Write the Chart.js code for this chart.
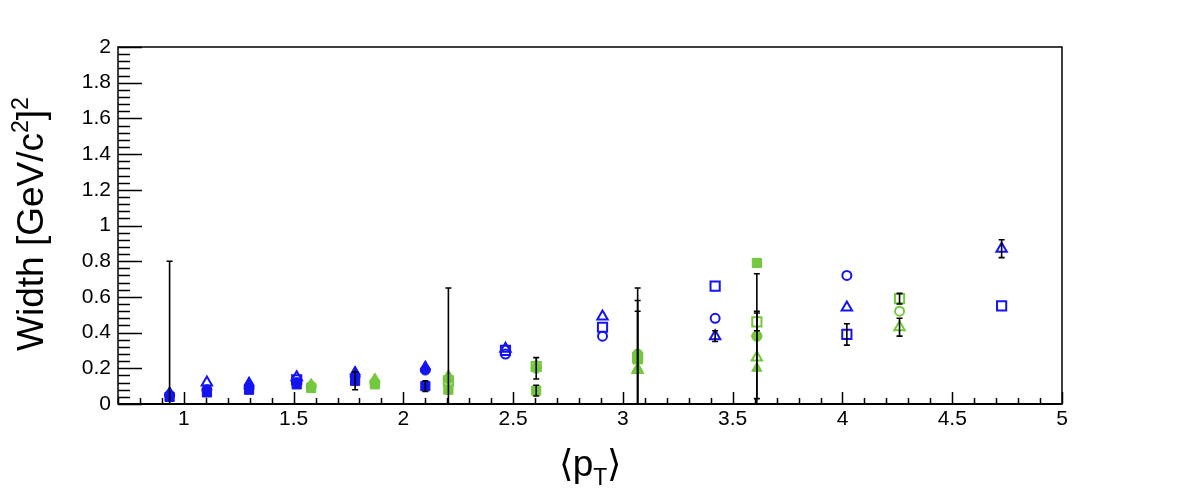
<!DOCTYPE html>
<html lang="en">
  <head>
    <meta charset="UTF-8" />
    <title>Width vs pT</title>
    <script src="https://cdn.jsdelivr.net/npm/chart.js"></script>
    <style>
      body {
        margin: 0;
        padding: 0;
        background: #fff;
      }
      .chart-box {
        width: 1181px;
        height: 493px;
      }
    </style>
  </head>
  <body>
    <div class="chart-box">
      <canvas id="widthChart"></canvas>
    </div>

    <script>
      // axis ticks
      var xTicks = [1, 1.5, 2, 2.5, 3, 3.5, 4, 4.5, 5];
      var xTickLabels = ["1", "1.5", "2", "2.5", "3", "3.5", "4", "4.5", "5"];
      var yTicks = [0, 0.2, 0.4, 0.6, 0.8, 1, 1.2, 1.4, 1.6, 1.8, 2];
      var yTickLabels = ["0", "0.2", "0.4", "0.6", "0.8", "1", "1.2", "1.4", "1.6", "1.8", "2"];

      // blue, filled square
      var bfsX = [0.935, 1.105, 1.297, 1.514, 1.78, 2.1];
      var bfsY = [0.04, 0.065, 0.08, 0.11, 0.13, 0.1];
      var bfsE = [0, 0, 0, 0, 0.05, 0.03];
      // blue, filled circle
      var bfcX = [0.935, 1.105, 1.297, 1.514, 1.78, 2.1];
      var bfcY = [0.05, 0.08, 0.09, 0.12, 0.155, 0.19];
      var bfcE = [0.75, 0, 0, 0, 0, 0];
      // blue, filled triangle
      var bftX = [0.935, 1.297, 1.78, 2.1];
      var bftY = [0.065, 0.12, 0.18, 0.21];
      var bftE = [0, 0, 0, 0];
      // blue, open triangle
      var botX = [1.105, 1.514, 2.465, 2.907, 3.42, 4.02, 4.725];
      var botY = [0.12, 0.15, 0.31, 0.49, 0.38, 0.54, 0.87];
      var botE = [0, 0, 0, 0, 0.03, 0, 0.05];
      // blue, open square
      var bosX = [1.514, 2.465, 2.907, 3.42, 4.02, 4.725];
      var bosY = [0.135, 0.3, 0.43, 0.66, 0.39, 0.55];
      var bosE = [0, 0, 0, 0, 0.06, 0];
      // blue, open circle
      var bocX = [2.465, 2.907, 3.42, 4.02];
      var bocY = [0.28, 0.38, 0.48, 0.72];
      var bocE = [0, 0, 0, 0];

      // green, filled square
      var gfsX = [1.58, 1.87, 2.205, 2.605, 3.067, 3.61];
      var gfsY = [0.09, 0.11, 0.08, 0.075, 0.25, 0.79];
      var gfsE = [0, 0, 0, 0.03, 0.27, 0];
      // green, filled circle
      var gfcX = [1.58, 1.87, 2.205, 2.605, 3.067, 3.61];
      var gfcY = [0.1, 0.12, 0.14, 0.2, 0.28, 0.38];
      var gfcE = [0, 0, 0.51, 0.06, 0.37, 0.35];
      // green, filled triangle
      var gftX = [1.58, 1.87, 2.205, 2.605, 3.067, 3.61];
      var gftY = [0.11, 0.14, 0.16, 0.22, 0.2, 0.2];
      var gftE = [0, 0, 0, 0, 0.38, 0];
      // green, open square
      var gosX = [2.205, 2.605, 3.067, 3.61, 4.26];
      var gosY = [0.13, 0.21, 0.26, 0.46, 0.59];
      var gosE = [0, 0, 0, 0.05, 0.03];
      // green, open circle
      var gocX = [3.61, 4.26];
      var gocY = [0.38, 0.52];
      var gocE = [0, 0];
      // green, open triangle
      var gotX = [3.067, 3.61, 4.26];
      var gotY = [0.19, 0.26, 0.43];
      var gotE = [0, 0.26, 0.05];

      var BLUE = "#1414f0";
      var GREEN = "#74c83e";
      var FONT = "'Liberation Sans', Arial, sans-serif";

      function series(xs, ys, es, color, shape, filled) {
        var r = shape === "rect" ? 6.5 : shape === "triangle" ? 6 : 4.5;
        if (filled && shape === "circle") r = 5;
        return {
          data: xs.map((x, i) => ({ x: x, y: ys[i], err: es[i] })),
          pointStyle: shape,
          pointRadius: r,
          pointHoverRadius: r,
          borderColor: color,
          backgroundColor: filled ? color : "rgba(255,255,255,0)",
          pointBorderWidth: filled ? 1 : 2,
          showLine: false,
        };
      }

      // vertical error bars, black with small caps
      var errorBars = {
        id: "errorBars",
        afterDatasetsDraw(chart) {
          var ctx = chart.ctx;
          var xs = chart.scales.x;
          var ys = chart.scales.y;
          var area = chart.chartArea;
          ctx.save();
          ctx.beginPath();
          ctx.rect(area.left, area.top, area.right - area.left, area.bottom - area.top);
          ctx.clip();
          ctx.strokeStyle = "#000";
          ctx.lineWidth = 1.6;
          chart.data.datasets.forEach((ds) => {
            ds.data.forEach((p) => {
              if (!p.err) return;
              var px = xs.getPixelForValue(p.x);
              var top = ys.getPixelForValue(p.y + p.err);
              var bot = ys.getPixelForValue(p.y - p.err);
              ctx.beginPath();
              ctx.moveTo(px, top);
              ctx.lineTo(px, bot);
              ctx.moveTo(px - 3, top);
              ctx.lineTo(px + 3, top);
              ctx.moveTo(px - 3, bot);
              ctx.lineTo(px + 3, bot);
              ctx.stroke();
            });
          });
          ctx.restore();
        },
      };

      // ROOT-like frame with inside ticks, plus axis titles
      var frame = {
        id: "frame",
        afterDraw(chart) {
          var ctx = chart.ctx;
          var xs = chart.scales.x;
          var ys = chart.scales.y;
          var a = chart.chartArea;
          ctx.save();
          ctx.strokeStyle = "#000";
          ctx.lineWidth = 1.5;
          ctx.strokeRect(a.left, a.top, a.right - a.left, a.bottom - a.top);
          ctx.lineWidth = 2;
          ctx.beginPath();
          ctx.moveTo(a.left, a.bottom);
          ctx.lineTo(a.right, a.bottom);
          ctx.stroke();

          ctx.lineWidth = 1.5;
          ctx.beginPath();
          for (var i = 7; i <= 50; i++) {
            var v = i / 10;
            var px = Math.round(xs.getPixelForValue(v)) + 0.5;
            var len = i % 5 === 0 ? 12 : 6;
            ctx.moveTo(px, a.bottom);
            ctx.lineTo(px, a.bottom - len);
          }
          for (var j = 0; j <= 50; j++) {
            var vy = j * 0.04;
            var py = Math.round(ys.getPixelForValue(vy)) + 0.5;
            var ylen = j % 5 === 0 ? 24 : 12;
            ctx.moveTo(a.left, py);
            ctx.lineTo(a.left + ylen, py);
          }
          ctx.stroke();

          // y title: Width [GeV/c^2]^2
          ctx.fillStyle = "#000";
          ctx.translate(43, 224);
          ctx.rotate(-Math.PI / 2);
          var big = "37px " + FONT;
          var small = "23px " + FONT;
          var parts = [
            ["Width [GeV/c", big, 0],
            ["2", small, -15],
            ["]", big, 0],
            ["2", small, -15],
          ];
          var total = 0;
          parts.forEach((p) => {
            ctx.font = p[1];
            total += ctx.measureText(p[0]).width;
          });
          var cx = -total / 2;
          ctx.textBaseline = "alphabetic";
          ctx.textAlign = "left";
          parts.forEach((p) => {
            ctx.font = p[1];
            ctx.fillText(p[0], cx, p[2]);
            cx += ctx.measureText(p[0]).width;
          });
          ctx.setTransform(1, 0, 0, 1, 0, 0);

          // x title: <p_T>
          var xparts = [
            ["\u27E8p", big, 0],
            ["T", small, 9],
            ["\u27E9", big, 0],
          ];
          var xt = 0;
          xparts.forEach((p) => {
            ctx.font = p[1];
            xt += ctx.measureText(p[0]).width;
          });
          var sx = 590 - xt / 2;
          xparts.forEach((p) => {
            ctx.font = p[1];
            ctx.fillText(p[0], sx, 476 + p[2]);
            sx += ctx.measureText(p[0]).width;
          });
          ctx.restore();
        },
      };

      var ctx = document.getElementById("widthChart").getContext("2d");
      var widthChart = new Chart(ctx, {
        type: "scatter",
        data: {
          datasets: [
            series(bfsX, bfsY, bfsE, BLUE, "rect", true),
            series(bfcX, bfcY, bfcE, BLUE, "circle", true),
            series(bftX, bftY, bftE, BLUE, "triangle", true),
            series(botX, botY, botE, BLUE, "triangle", false),
            series(bosX, bosY, bosE, BLUE, "rect", false),
            series(bocX, bocY, bocE, BLUE, "circle", false),
            series(gfsX, gfsY, gfsE, GREEN, "rect", true),
            series(gfcX, gfcY, gfcE, GREEN, "circle", true),
            series(gftX, gftY, gftE, GREEN, "triangle", true),
            series(gosX, gosY, gosE, GREEN, "rect", false),
            series(gocX, gocY, gocE, GREEN, "circle", false),
            series(gotX, gotY, gotE, GREEN, "triangle", false),
          ],
        },
        options: {
          responsive: true,
          maintainAspectRatio: false,
          animation: false,
          layout: { padding: { left: 0, top: 47, right: 119, bottom: 0 } },
          plugins: {
            legend: { display: false },
            tooltip: { enabled: false },
          },
          scales: {
            x: {
              type: "linear",
              min: 0.7,
              max: 5,
              afterBuildTicks: (s) => {
                s.ticks = xTicks.map((v) => ({ value: v }));
              },
              afterFit: (s) => {
                s.height = 89;
              },
              grid: { display: false, drawTicks: false },
              border: { display: false },
              ticks: {
                padding: 3,
                color: "#000",
                font: { family: FONT, size: 21 },
                maxRotation: 0,
                callback: (v, i) => xTickLabels[i],
              },
            },
            y: {
              min: 0,
              max: 2,
              afterBuildTicks: (s) => {
                s.ticks = yTicks.map((v) => ({ value: v }));
              },
              afterFit: (s) => {
                s.width = 118;
              },
              grid: { display: false, drawTicks: false },
              border: { display: false },
              ticks: {
                padding: 7,
                color: "#000",
                font: { family: FONT, size: 21 },
                callback: (v, i) => yTickLabels[i],
              },
            },
          },
        },
        plugins: [errorBars, frame],
      });
    </script>
  </body>
</html>
